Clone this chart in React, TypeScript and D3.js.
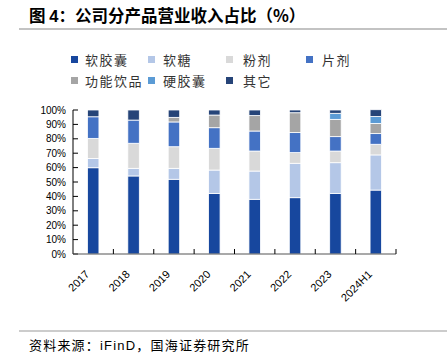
import React from "react";
import * as d3 from "d3";

const categories = ["2017", "2018", "2019", "2020", "2021", "2022", "2023", "2024H1"];
const seriesNames = ["软胶囊", "软糖", "粉剂", "片剂", "功能饮品", "硬胶囊", "其它"];
const softCapsule = [59.9, 54.2, 51.9, 42.1, 38.0, 39.1, 42.1, 44.4];
const gummy = [6.5, 5.3, 7.6, 16.2, 19.6, 23.9, 21.3, 24.4];
const powder = [13.9, 17.4, 15.0, 15.1, 13.9, 7.4, 8.1, 7.4];
const tablet = [15.0, 16.1, 17.2, 14.3, 13.9, 13.9, 10.0, 7.4];
const drink = [0, 0, 3.2, 8.8, 10.7, 13.8, 12.0, 7.1];
const hardCapsule = [0, 0, 0, 0, 0, 0, 4.2, 4.8];
const other = [4.7, 7.0, 5.1, 3.5, 3.9, 1.9, 2.3, 4.7];
const yTicks = [0, 10, 20, 30, 40, 50, 60, 70, 80, 90, 100];
const colors = ["#17479E", "#B4C7E7", "#D9D9D9", "#4472C4", "#A5A5A5", "#5B9BD5", "#264478"];

const seriesValues = [softCapsule, gummy, powder, tablet, drink, hardCapsule, other];

export default function App() {
  const W = 447, H = 358;
  const left = 73, right = 396, top = 110, bottom = 254;
  const x = d3.scaleBand<string>().domain(categories).range([left, right]).paddingInner(0).paddingOuter(0);
  const y = d3.scaleLinear().domain([0, 100]).range([bottom, top]);
  const barW = 11.5;

  const rows = categories.map((c, i) => {
    const o: any = { cat: c };
    seriesNames.forEach((s, k) => (o[s] = seriesValues[k][i]));
    return o;
  });
  const stacked = d3.stack<any>().keys(seriesNames)(rows);

  const legendItems = [
    { name: "软胶囊", sx: 71, tx: 85, y: 60 },
    { name: "软糖", sx: 148, tx: 163, y: 60 },
    { name: "粉剂", sx: 226, tx: 243, y: 60 },
    { name: "片剂", sx: 306, tx: 322, y: 60 },
    { name: "功能饮品", sx: 71, tx: 85, y: 81 },
    { name: "硬胶囊", sx: 148, tx: 163, y: 81 },
    { name: "其它", sx: 226, tx: 243, y: 81 },
  ];

  const cjk = "'Noto Sans CJK SC', sans-serif";
  const latin = "Arial, 'Liberation Sans', sans-serif";

  return (
    <svg width={W} height={H} style={{ position: "absolute", left: 0, top: 0, background: "#fff" }}>
      <text x={29} y={22} fontFamily={cjk} fontSize={16.5} fontWeight="bold" fill="#000">
        图 <tspan fontFamily={latin}>4</tspan>：公司分产品营业收入占比（%）
      </text>
      <line x1={19} x2={447} y1={29} y2={29} stroke="#888" strokeWidth={1.2} />

      {legendItems.map((l) => {
        const k = seriesNames.indexOf(l.name);
        return (
          <g key={l.name}>
            <rect x={l.sx} y={l.y - 4} width={7} height={7} fill={colors[k]} />
            <text x={l.tx} y={l.y + 4.5} fontFamily={cjk} fontSize={13} letterSpacing={1.5} fill="#333">
              {l.name}
            </text>
          </g>
        );
      })}

      {stacked.map((layer, k) => (
        <g key={layer.key} fill={colors[k]}>
          {layer.map((d, i) => {
            const h = y(d[0]) - y(d[1]);
            if (h <= 0) return null;
            return (
              <rect
                key={i}
                x={(x(categories[i]) as number) + x.bandwidth() / 2 - barW / 2}
                y={y(d[1])}
                width={barW}
                height={h}
                stroke="#fff"
                strokeWidth={0.8}
              />
            );
          })}
        </g>
      ))}

      <line x1={left} x2={left} y1={top} y2={bottom} stroke="#000" strokeWidth={1} />
      {yTicks.map((t) => (
        <g key={t}>
          <line x1={left} x2={left + 5} y1={y(t)} y2={y(t)} stroke="#000" />
          <text x={left - 7} y={y(t) + 3.5} textAnchor="end" fontFamily={latin} fontSize={10} fill="#000">
            {t}%
          </text>
        </g>
      ))}
      <line x1={left} x2={right} y1={bottom} y2={bottom} stroke="#555" strokeWidth={1.2} />
      {categories.map((c) => (
        <line
          key={c}
          x1={(x(c) as number) + x.bandwidth()}
          x2={(x(c) as number) + x.bandwidth()}
          y1={bottom}
          y2={bottom - 5}
          stroke="#000"
        />
      ))}
      {categories.map((c) => {
        const cx = (x(c) as number) + x.bandwidth() / 2;
        return (
          <text
            key={c}
            transform={`translate(${cx - 3},${bottom + 21}) rotate(-45)`}
            textAnchor="end"
            fontFamily={latin}
            fontSize={11}
            fill="#000"
          >
            {c}
          </text>
        );
      })}

      <line x1={19} x2={447} y1={331} y2={331} stroke="#999" strokeWidth={1.2} />
      <text x={29} y={350} fontFamily={cjk} fontSize={13} letterSpacing={1.2} fill="#000">
        资料来源：<tspan fontFamily={latin}>iFinD</tspan>，国海证券研究所
      </text>
    </svg>
  );
}
